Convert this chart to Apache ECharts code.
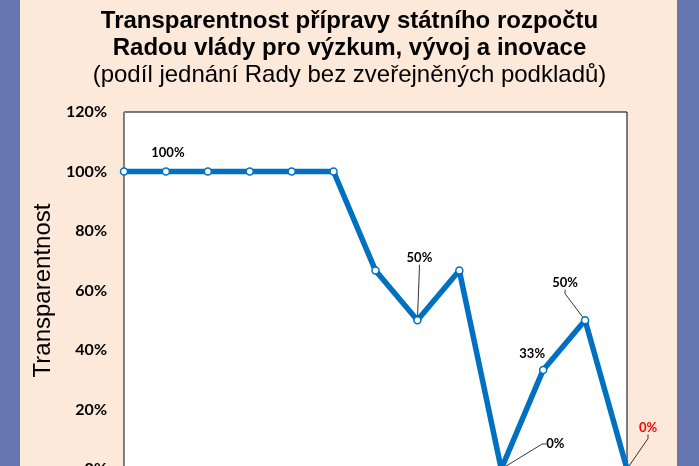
<!DOCTYPE html>
<html>
<head>
<meta charset="utf-8">
<script src="https://cdn.jsdelivr.net/npm/echarts@6/dist/echarts.min.js"></script>
<style>
html,body{margin:0;padding:0;}
#chart{width:699px;height:466px;background:linear-gradient(to right,#6677B0 0px,#6677B0 20px,#FDE9DA 20px,#FDE9DA 677px,#6677B0 677px);}
</style>
</head>
<body>
<div id="chart"></div>
<script>
// Data
const categories = ['1','2','3','4','5','6','7','8','9','10','11','12','13'];
const values = [1, 1, 1, 1, 1, 1, 0.667, 0.5, 0.667, 0, 0.333, 0.5, 0];
const labelTexts = {1: '100%', 7: '50%', 9: '0%', 10: '33%', 11: '50%', 12: '0%'};
const yTicks = [0, 0.2, 0.4, 0.6, 0.8, 1.0, 1.2];

// Label placement (style only)
const labelMoves = {
  1: {dx: 2, dy: -19, line: false},
  7: {dx: 2, dy: -62, line: true},
  9: {dx: 54, dy: -25, line: true},
  10: {dx: -11, dy: -16, line: false},
  11: {dx: -20, dy: -37, line: true},
  12: {dx: 21, dy: -41, line: true, red: true}
};

const seriesData = values.map((v, i) => {
  const m = labelMoves[i];
  if (!m) return {value: v, label: {show: false}};
  return {
    value: v,
    label: {show: true, formatter: labelTexts[i], color: m.red ? '#FF0000' : '#000'},
    labelLine: {show: m.line}
  };
});

const chart = echarts.init(document.getElementById('chart'));
chart.setOption({
  backgroundColor: 'transparent',
  animation: false,
  title: [
    {
      text: 'Transparentnost přípravy státního rozpočtu\nRadou vlády pro výzkum, vývoj a inovace',
      left: 'center', top: 8, padding: 0,
      textStyle: {fontFamily: 'Liberation Sans', fontWeight: 'bold', fontSize: 24, lineHeight: 27, color: '#000'}
    },
    {
      text: '(podíl jednání Rady bez zveřejněných podkladů)',
      left: 'center', top: 62, padding: 0,
      textStyle: {fontFamily: 'Liberation Sans', fontWeight: 'normal', fontSize: 24, lineHeight: 27, color: '#000'}
    }
  ],
  grid: {
    left: 124, top: 112, width: 503, height: 357,
    outerBoundsMode: 'none', containLabel: false,
    show: true, backgroundColor: '#fff', borderColor: '#000', borderWidth: 1
  },
  xAxis: {
    type: 'category', data: categories, boundaryGap: false,
    axisLine: {show: true, lineStyle: {color: '#888'}},
    axisTick: {show: false}, axisLabel: {show: false}, splitLine: {show: false}
  },
  yAxis: {
    type: 'value', min: yTicks[0], max: yTicks[yTicks.length - 1], interval: 0.2,
    name: 'Transparentnost', nameLocation: 'middle', nameGap: 62,
    nameTextStyle: {fontFamily: 'Liberation Sans', fontSize: 24, color: '#000'},
    axisLine: {show: true, lineStyle: {color: '#888'}},
    axisTick: {show: false},
    splitLine: {show: false},
    axisLabel: {
      margin: 17, color: '#000', fontFamily: 'Lato', fontWeight: 'bold', fontSize: 16,
      formatter: v => Math.round(v * 100) + '%'
    }
  },
  series: [{
    type: 'line',
    data: seriesData,
    lineStyle: {color: '#0070C0', width: 5.5},
    symbol: 'circle', symbolSize: 7,
    itemStyle: {color: '#fff', borderColor: '#0070C0', borderWidth: 1.5},
    label: {position: 'inside', fontFamily: 'Lato', fontWeight: 'bold', fontSize: 13},
    labelLine: {show: true, length2: 4, lineStyle: {color: '#000', width: 0.8}},
    labelLayout: function (p) {
      const m = labelMoves[p.dataIndex];
      return m ? {dx: m.dx, dy: m.dy} : {};
    },
    clip: false,
    z: 3
  }]
});
</script>
</body>
</html>
